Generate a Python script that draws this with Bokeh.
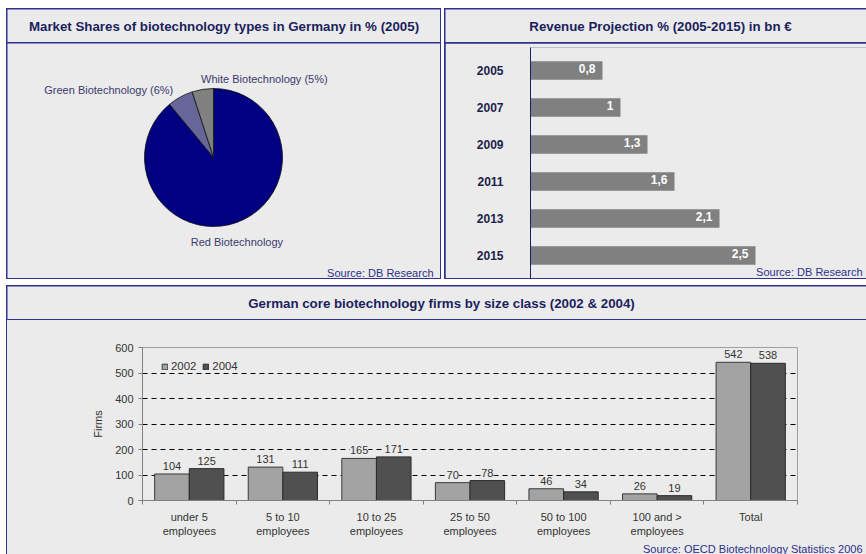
import math
from bokeh.plotting import figure
from bokeh.models import (ColumnDataSource, Range1d, FactorRange, LinearAxis,
                          FixedTicker, Label, LabelSet, Legend, LegendItem, Spacer)
from bokeh.layouts import column, row
from bokeh.transform import dodge
from bokeh.core.properties import value
from bokeh.embed import file_html
from bokeh.resources import INLINE

# ---------------- data ----------------
pie_categories = ["Red Biotechnology", "Green Biotechnology", "White Biotechnology"]
pie_shares = [89, 6, 5]
pie_show_share = [False, True, True]

rev_years = ["2005", "2007", "2009", "2011", "2013", "2015"]
rev_values = [0.8, 1.0, 1.3, 1.6, 2.1, 2.5]

size_classes = ["under 5\nemployees", "5 to 10\nemployees", "10 to 25\nemployees",
                "25 to 50\nemployees", "50 to 100\nemployees", "100 and >\nemployees", "Total"]
firms_2002 = [104, 131, 165, 70, 46, 26, 542]
firms_2004 = [125, 111, 171, 78, 34, 19, 538]
firm_ticks = [0, 100, 200, 300, 400, 500, 600]
series_names = ["2002", "2004"]

title_a = "Market Shares of biotechnology types in Germany in % (2005)"
title_b = "Revenue Projection % (2005-2015) in bn \u20ac"
title_c = "German core biotechnology firms by size class (2002 & 2004)"
source_a = "Source: DB Research"
source_b = "Source: DB Research"
source_c = "Source: OECD Biotechnology Statistics 2006"

# ---------------- style ----------------
FONT = "Liberation Sans"
BG = "#ebebeb"
BLUE = "#30338a"
TITLE_C = "#1c1f5e"
SRC_C = "#2b2f8c"
PIE_TXT = "#3a3a6e"
AX_C = "#333333"
TITLE_H = 33


def base_fig(**kw):
    p = figure(output_backend="svg", toolbar_location=None, frame_align=False, **kw)
    p.background_fill_color = BG
    p.border_fill_color = BG
    p.outline_line_color = None
    return p


def text_fig(w, h):
    t = base_fig(width=w, height=h, x_range=Range1d(0, w), y_range=Range1d(0, h),
                 x_axis_location=None, y_axis_location=None, min_border=0)
    t.grid.visible = False
    return t


def title_fig(text, w, cx):
    t = text_fig(w, TITLE_H)
    t.add_layout(Label(x=cx, y=TITLE_H / 2, text=text, text_align="center", text_baseline="middle",
                       text_font=FONT, text_font_style="bold", text_font_size="13.3px",
                       text_color=TITLE_C))
    return t


def src_label(x, y, text):
    return Label(x=x, y=y, text=text, text_align="right", text_baseline="middle",
                 text_font=FONT, text_font_size="11px", text_color=SRC_C)


# ---------------- panel A : pie ----------------
PA_W, PA_H = 433, 235
R_PX = 69
PIE_CX, PIE_CY = 206, 114
pa = base_fig(width=PA_W, height=PA_H,
              x_range=Range1d(-PIE_CX / R_PX, (PA_W - PIE_CX) / R_PX),
              y_range=Range1d(-(PA_H - PIE_CY) / R_PX, PIE_CY / R_PX),
              x_axis_location=None, y_axis_location=None, min_border=0)
pa.grid.visible = False

total = sum(pie_shares)
starts, ends, mids = [], [], []
cum = 0
for s in pie_shares:
    a0 = math.pi / 2 - 2 * math.pi * cum / total
    cum += s
    a1 = math.pi / 2 - 2 * math.pi * cum / total
    starts.append(a0)
    ends.append(a1)
    mids.append((a0 + a1) / 2)

pie_colors = ["#000080", "#666699", "#808080"]
label_dist = [1.3, 1.12, 1.15]
label_align = ["center", "right", "left"]
label_dx = [-7, -3, 0]
texts = [c + (" (%d%%)" % s if show else "") for c, s, show in zip(pie_categories, pie_shares, pie_show_share)]
src_pie = ColumnDataSource(dict(
    start=starts, end=ends, color=pie_colors, text=texts, align=label_align, dx=label_dx,
    lx=[d * math.cos(m) for d, m in zip(label_dist, mids)],
    ly=[d * math.sin(m) for d, m in zip(label_dist, mids)],
))
pa.wedge(x=0, y=0, radius=1.0, start_angle="start", end_angle="end", direction="clock",
         fill_color="color", line_color="#111111", line_width=0.8, source=src_pie)
pa.text(x="lx", y="ly", text="text", text_align="align", text_baseline="middle", x_offset="dx",
        text_font=value(FONT), text_font_size="11px", text_color=PIE_TXT, source=src_pie)
pa.add_layout(src_label((426 - PIE_CX) / R_PX, (PIE_CY - 229) / R_PX, source_a))

# ---------------- panel B : horizontal bars ----------------
PB_W, PB_H = 421, 235
PB_LEFT = 85
PX_PER_UNIT = 90
BAND = 37.0
PB_TOP = 4
pb_frame_h = PB_H - PB_TOP
pb_pad = (pb_frame_h - BAND * len(rev_years)) / 2 / BAND
pb = base_fig(width=PB_W, height=PB_H,
              y_range=FactorRange(factors=rev_years[::-1], range_padding=2 * pb_pad / len(rev_years)),
              x_range=Range1d(0, (PB_W - PB_LEFT) / PX_PER_UNIT), x_axis_location=None,
              min_border_left=PB_LEFT, min_border_right=0, min_border_top=PB_TOP, min_border_bottom=0)
pb.grid.visible = False
src_b = ColumnDataSource(dict(
    year=rev_years, val=rev_values,
    lbl=[("%g" % v).replace(".", ",") for v in rev_values],
))
pb.hbar(y="year", left=0, right="val", height=0.5, fill_color="#808080", line_color=None, source=src_b)
pb.text(x="val", y="year", text="lbl", source=src_b, text_align="right", text_baseline="middle",
        x_offset=-7, y_offset=-2, text_font=value(FONT), text_font_style="bold",
        text_font_size="12px", text_color="white")
ya = pb.yaxis[0]
ya.axis_line_color = "#1c1f5e"
ya.axis_line_width = 1
ya.major_tick_line_color = None
ya.minor_tick_line_color = None
ya.major_tick_out = 0
ya.major_label_standoff = 27
ya.major_label_text_font = FONT
ya.major_label_text_font_style = "bold"
ya.major_label_text_font_size = "12px"
ya.major_label_text_color = "#1c1f4a"
pb.add_layout(src_label((862 - 530) / PX_PER_UNIT, -pb_pad + 7 / BAND, source_b))

# ---------------- panel C : grouped bars ----------------
PC_W, PC_H = 859, 220
FOOT_H = 14
n_cls = len(size_classes)
pc = base_fig(width=PC_W, height=PC_H, x_range=Range1d(0, n_cls),
              y_range=Range1d(firm_ticks[0], firm_ticks[-1]), x_axis_location=None,
              min_border_left=135, min_border_right=69, min_border_top=27, min_border_bottom=40)
pc.outline_line_color = "#a0a0a0"
pc.xgrid.visible = False
pc.ygrid.ticker = FixedTicker(ticks=firm_ticks[1:-1])
pc.ygrid.grid_line_color = "#000000"
pc.ygrid.grid_line_dash = "5 4"
pc.ygrid.grid_line_width = 1

centers = [i + 0.5 for i in range(n_cls)]
src_c = ColumnDataSource(dict(
    xc=centers, y2002=firms_2002, y2004=firms_2004,
    t2002=[str(v) for v in firms_2002], t2004=[str(v) for v in firms_2004],
))
OFF = 0.185
BW = 0.37
r1 = pc.vbar(x=dodge("xc", -OFF), top="y2002", width=BW, bottom=0,
             fill_color="#a3a3a3", line_color="#3a3a3a", line_width=1, source=src_c)
r2 = pc.vbar(x=dodge("xc", OFF), top="y2004", width=BW, bottom=0,
             fill_color="#505050", line_color="#2a2a2a", line_width=1, source=src_c)

for col, off in (("2002", -OFF), ("2004", OFF)):
    pc.add_layout(LabelSet(x=dodge("xc", off), y="y" + col, text="t" + col,
                           source=src_c, text_align="center", text_baseline="bottom", y_offset=4,
                           text_font=value(FONT), text_font_size="11px", text_color=AX_C,
                           background_fill_color=BG))

yax = pc.yaxis[0]
yax.ticker = FixedTicker(ticks=firm_ticks)
yax.axis_line_color = "#808080"
yax.major_tick_line_color = "#808080"
yax.minor_tick_line_color = None
yax.major_tick_out = 4
yax.major_tick_in = 0
yax.major_label_standoff = 5
yax.major_label_text_font = FONT
yax.major_label_text_font_size = "11px"
yax.major_label_text_color = AX_C
yax.axis_label = "Firms"
yax.axis_label_text_font = FONT
yax.axis_label_text_font_style = "normal"
yax.axis_label_text_font_size = "11px"
yax.axis_label_text_color = AX_C
yax.axis_label_standoff = 8

tick_axis = LinearAxis(ticker=FixedTicker(ticks=list(range(n_cls + 1))),
                       axis_line_color="#808080", major_tick_line_color="#808080",
                       minor_tick_line_color=None, major_tick_out=4, major_tick_in=0,
                       major_label_text_font_size="0px", major_label_text_color=None,
                       major_label_standoff=0)
cat_axis = LinearAxis(ticker=FixedTicker(ticks=centers),
                      major_label_overrides={c: name for c, name in zip(centers, size_classes)},
                      axis_line_color=None, major_tick_line_color=None, minor_tick_line_color=None,
                      major_label_standoff=0, major_label_text_font=FONT,
                      major_label_text_font_size="11px", major_label_text_color=AX_C)
pc.add_layout(tick_axis, "below")
pc.add_layout(cat_axis, "below")

legend = Legend(items=[LegendItem(label=series_names[0], renderers=[r1]),
                       LegendItem(label=series_names[1], renderers=[r2])],
                orientation="horizontal", location=(19, 128), margin=0, padding=6,
                background_fill_color=BG, border_line_color=None,
                glyph_width=7, glyph_height=7, label_standoff=3, spacing=6,
                label_height=12, label_text_font=FONT, label_text_font_size="11.4px",
                label_text_color=AX_C)
pc.add_layout(legend)

foot = text_fig(PC_W, FOOT_H)
foot.add_layout(src_label(862 - 7, FOOT_H - 8, source_c))

# ---------------- layout ----------------
ta = title_fig(title_a, PA_W, PA_W / 2)
tb = title_fig(title_b, PB_W, 215)
tc = title_fig(title_c, PC_W, 434)

panel_a = column(ta, pa, spacing=1, styles={"background-color": BLUE, "padding": "1px"})
panel_b = column(tb, pb, spacing=1, styles={"background-color": BLUE, "padding": "1px 0px 1px 1px"})
body_c = column(pc, foot, spacing=0, styles={"background-color": BG})
panel_c = column(tc, body_c, spacing=1,
                 styles={"background-color": BLUE, "padding": "1px 0px 0px 1px"})

root = column(Spacer(height=8, width=10),
              row(Spacer(width=6, height=10), panel_a, Spacer(width=3, height=10), panel_b),
              Spacer(height=6, width=10),
              row(Spacer(width=6, height=10), panel_c),
              styles={"background-color": "white"})

open("out.html", "w").write(file_html(root, INLINE))
